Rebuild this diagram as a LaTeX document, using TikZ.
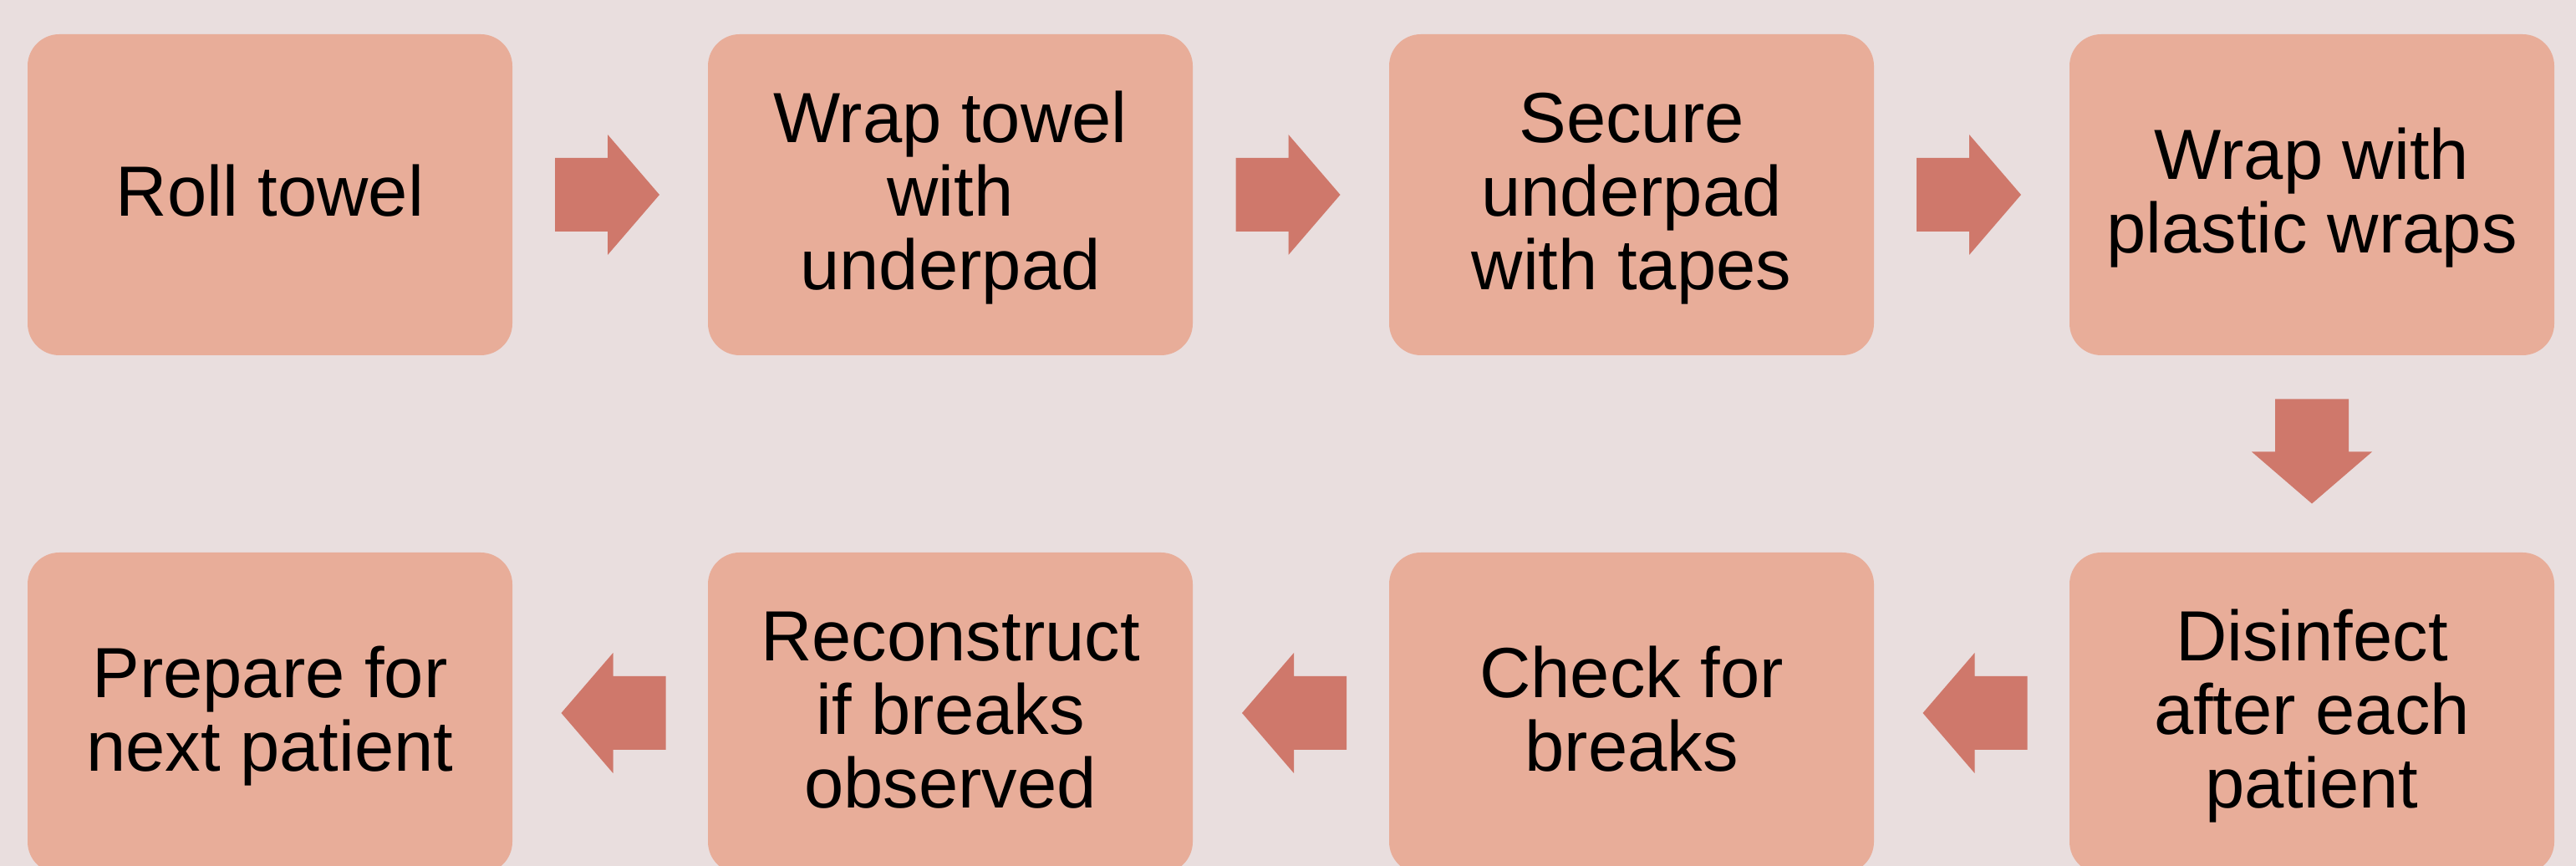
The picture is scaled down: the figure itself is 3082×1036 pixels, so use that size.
\documentclass[tikz,border=0pt]{standalone}
\usepackage{fontspec}
\setmainfont{Liberation Sans}
\usetikzlibrary{calc}
\definecolor{bgc}{HTML}{E9DEDE}
\definecolor{boxc}{HTML}{E8AD99}
\definecolor{arrc}{HTML}{CF786B}
\newcommand\st{\rule[-4.5pt]{0pt}{22pt}}
\newcommand\blockarrow[2]{%
  \fill[arrc, shift={(#1)}, rotate=#2]
    (-62.5,-44) -- (0.5,-44) -- (0.5,-72) -- (62.5,0) -- (0.5,72) -- (0.5,44) -- (-62.5,44) -- cycle;}
\tikzset{
  stepbox/.style={fill=boxc, draw=none, rounded corners=9.5pt, minimum width=145pt,
    minimum height=96pt, inner sep=0pt, align=center,
    font=\fontsize{21.25}{22}\selectfont, text=black},
}
\begin{document}
\begin{tikzpicture}[x=0.25pt, y=0.25pt]
\useasboundingbox (0,0) rectangle (3082,1036);
\clip (0,0) rectangle (3082,1036);
\fill[bgc] (0,0) rectangle (3082,1036);
% top row
\node[stepbox] (b1) at (323,803) {\st Roll towel};
\node[stepbox] (b2) at (1137,803) {\st Wrap towel\\\st with\\\st underpad};
\node[stepbox] (b3) at (1952,803) {\st Secure\\\st underpad\\\st with tapes};
\node[stepbox] (b4) at (2766,803) {\st Wrap with\\\st plastic wraps};
% bottom row
\node[stepbox] (b5) at (2766,183) {\st Disinfect\\\st after each\\\st patient};
\node[stepbox] (b6) at (1952,183) {\st Check for\\\st breaks};
\node[stepbox] (b7) at (1137,183) {\st Reconstruct\\\st if breaks\\\st observed};
\node[stepbox] (b8) at (323,183) {\st Prepare for\\\st next patient};
% arrows
\coordinate (a12) at ($(b1.east)!0.5!(b2.west)+(-3.5,0)$);
\coordinate (a23) at ($(b2.east)!0.5!(b3.west)+(-3.5,0)$);
\coordinate (a34) at ($(b3.east)!0.5!(b4.west)+(-3.5,0)$);
\coordinate (a45) at ($(b4.south)!0.5!(b5.north)+(0,3)$);
\coordinate (a56) at ($(b5.west)!0.5!(b6.east)+(4,0)$);
\coordinate (a67) at ($(b6.west)!0.5!(b7.east)+(4,0)$);
\coordinate (a78) at ($(b7.west)!0.5!(b8.east)+(4,0)$);
\blockarrow{a12}{0}
\blockarrow{a23}{0}
\blockarrow{a34}{0}
\blockarrow{a45}{-90}
\blockarrow{a56}{180}
\blockarrow{a67}{180}
\blockarrow{a78}{180}
\end{tikzpicture}
\end{document}
